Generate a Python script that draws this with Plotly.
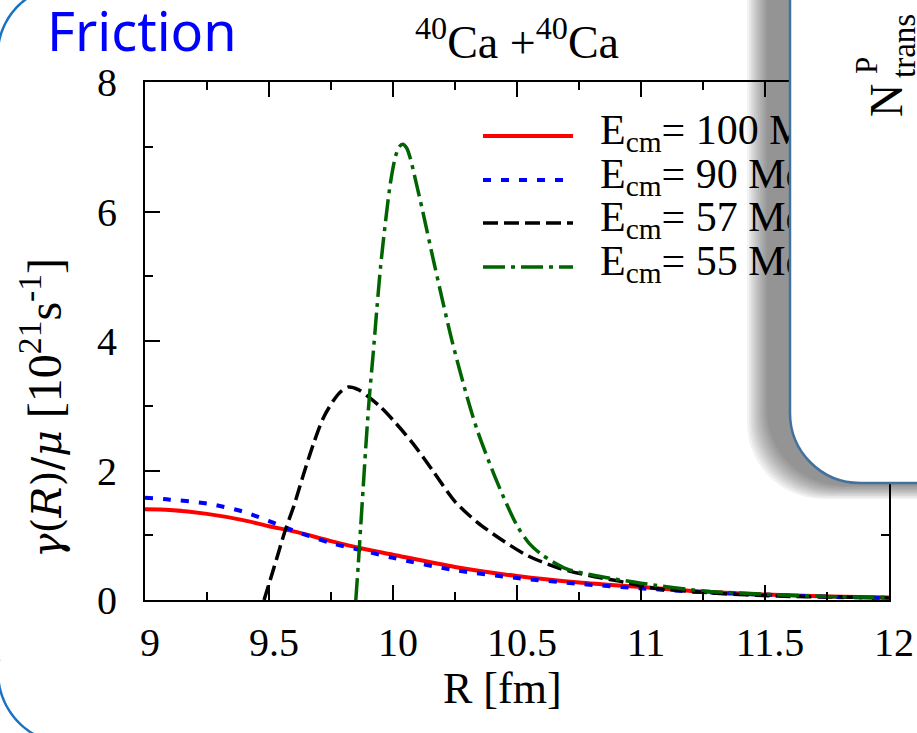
import math
import plotly.graph_objects as go

# Friction coefficient gamma(R)/mu [1e21 s^-1] versus separation R [fm]
r_100 = [9.0, 9.1, 9.25, 9.4, 9.5, 9.6, 9.75, 9.87, 10.0, 10.25, 10.5, 10.75, 11.0, 11.25, 11.5, 11.75, 12.0]
g_100 = [1.40, 1.39, 1.33, 1.23, 1.14, 1.06, 0.91, 0.80, 0.70, 0.51, 0.37, 0.27, 0.20, 0.13, 0.085, 0.055, 0.04]

r_90 = [9.0, 9.1, 9.25, 9.4, 9.5, 9.6, 9.75, 9.87, 10.0, 10.25, 10.5, 10.75, 11.0, 11.25, 11.5, 11.75, 12.0]
g_90 = [1.58, 1.55, 1.49, 1.36, 1.22, 1.07, 0.88, 0.77, 0.65, 0.46, 0.34, 0.25, 0.18, 0.12, 0.08, 0.05, 0.03]

r_57 = [9.48, 9.52, 9.565, 9.6, 9.64, 9.68, 9.72, 9.76, 9.79, 9.82, 9.86, 9.9, 9.95, 10.0,
        10.08, 10.16, 10.25, 10.34, 10.45, 10.545, 10.67, 10.8, 10.9, 11.04, 11.28, 11.55, 11.88, 12.0]
g_57 = [0.0, 0.5, 1.07, 1.45, 1.95, 2.42, 2.82, 3.08, 3.22, 3.29, 3.25, 3.14, 2.98, 2.78,
        2.42, 2.0, 1.52, 1.2, 0.9, 0.68, 0.49, 0.37, 0.3, 0.19, 0.11, 0.06, 0.04, 0.03]

r_55 = [9.85, 9.86, 9.87, 9.88, 9.89, 9.905, 9.92, 9.935, 9.95, 9.97, 9.99, 10.01, 10.025, 10.04,
        10.055, 10.07, 10.09, 10.12, 10.16, 10.2, 10.24, 10.3, 10.34, 10.42, 10.5, 10.55, 10.6,
        10.7, 10.8, 10.9, 11.0, 11.25, 11.5, 11.75, 12.0]
g_55 = [0.0, 0.55, 1.15, 1.75, 2.35, 3.15, 3.8, 4.5, 5.15, 5.85, 6.45, 6.85, 7.0, 7.04,
        6.98, 6.82, 6.5, 6.0, 5.3, 4.62, 3.97, 3.12, 2.62, 1.82, 1.15, 0.87, 0.7,
        0.48, 0.39, 0.32, 0.26, 0.14, 0.09, 0.055, 0.04]

series_labels = ["E<sub>cm</sub>= 100 MeV", "E<sub>cm</sub>= 90 MeV",
                 "E<sub>cm</sub>= 57 MeV", "E<sub>cm</sub>= 55 MeV"]

x_ticks = [9, 9.5, 10, 10.5, 11, 11.5, 12]
x_tick_labels = ["9", "9.5", "10", "10.5", "11", "11.5", "12"]
y_ticks = [0, 2, 4, 6, 8]
y_tick_labels = ["0", "2", "4", "6", "8"]

SERIF = "Liberation Serif"
W, H = 917, 733
PL, PR, PT, PB = 145, 889, 82, 600


def X(px):
    return (px - PL) / (PR - PL)


def Y(py):
    return (PB - py) / (PB - PT)


styles = [
    dict(color="#ff0000", width=4, dash="solid"),
    dict(color="#0000ff", width=4, dash="8px,10px"),
    dict(color="#000000", width=3.5, dash="15px,6px"),
    dict(color="#006400", width=3.5, dash="22px,6px,4px,6px"),
]

fig = go.Figure()
for (rr, gg), st, name in zip([(r_100, g_100), (r_90, g_90), (r_57, g_57), (r_55, g_55)],
                              styles, series_labels):
    fig.add_trace(go.Scatter(x=rr, y=gg, mode="lines", name=name,
                             line=dict(color=st["color"], width=st["width"], dash=st["dash"],
                                       shape="spline", smoothing=0.8),
                             hoverinfo="skip", showlegend=False))

# key: sample lines as shapes, labels as a text trace on an overlay axis so the
# framed inset drawn above can hide their ends
key_rows = [136, 180, 223, 267]
fig.add_trace(go.Scatter(
    x=[X(600)] * 4, y=[Y(r - 3) for r in key_rows], xaxis="x2", yaxis="y2",
    mode="text", text=series_labels, textposition="middle right",
    textfont=dict(family=SERIF, size=42, color="black"),
    cliponaxis=False, hoverinfo="skip", showlegend=False))

shapes = []
for row, st in zip(key_rows, styles):
    shapes.append(dict(type="line", xref="paper", yref="paper",
                       x0=X(483), x1=X(573), y0=Y(row), y1=Y(row), layer="above",
                       line=dict(color=st["color"], width=st["width"], dash=st["dash"])))


def arc_path(cx, cy, r, a0, a1, n=40):
    pts = []
    for i in range(n + 1):
        a = math.radians(a0 + (a1 - a0) * i / n)
        pts.append((cx + r * math.cos(a), cy + r * math.sin(a)))
    return "M " + " L ".join(f"{X(px):.5f},{Y(py):.5f}" for px, py in pts)


# slide frame corners on the left
frame_col = "#1a73c2"
shapes.append(dict(type="path", xref="paper", yref="paper", layer="above",
                   path=arc_path(67, 55, 69.3, 175, 275),
                   line=dict(color=frame_col, width=2.5)))
shapes.append(dict(type="path", xref="paper", yref="paper", layer="above",
                   path=arc_path(70, 672, 72, 90, 190),
                   line=dict(color=frame_col, width=2.5)))


def inset_path(left, bottom, r, right=950, top=-30):
    k = 0.5523 * r
    return (f"M {X(left)},{Y(top)} L {X(left)},{Y(bottom - r)} "
            f"C {X(left)},{Y(bottom - r + k)} {X(left + r - k)},{Y(bottom)} {X(left + r)},{Y(bottom)} "
            f"L {X(right)},{Y(bottom)} L {X(right)},{Y(top)} Z")


# soft drop shadow of the inset panel, built from stacked translucent layers
for i in range(10):
    shapes.append(dict(type="path", xref="paper", yref="paper", layer="above",
                       path=inset_path(747 + 2.2 * i, 499 - 1.5 * i, 76),
                       fillcolor="rgba(0,0,0,0.05)", line=dict(width=0)))
shapes.append(dict(type="path", xref="paper", yref="paper", layer="above",
                   path=inset_path(790, 483, 70),
                   fillcolor="white", line=dict(color="#41719c", width=2.5)))

ytitle = ('<span style="font-family:DejaVu Serif;font-size:41px">'
          '<i>γ</i>(<i>R</i>)/<i>μ</i></span>'
          '<span style="font-family:Liberation Serif"> [10<sup>21</sup>s<sup>-1</sup>]</span>')

annotations = [
    dict(text="Friction", x=X(45), y=Y(30), xref="paper", yref="paper",
         xanchor="left", yanchor="middle", showarrow=False,
         font=dict(family="Noto Sans", size=54, color="#0000ff")),
    dict(text="<sup>40</sup>Ca +<sup>40</sup>Ca", x=X(517), y=Y(39), xref="paper", yref="paper",
         xanchor="center", yanchor="middle", showarrow=False,
         font=dict(family=SERIF, size=46, color="black")),
    dict(text="R [fm]", x=X(502), y=Y(688), xref="paper", yref="paper",
         xanchor="center", yanchor="middle", showarrow=False,
         font=dict(family=SERIF, size=44, color="black")),
    dict(text=ytitle, x=X(41), y=Y(408), xref="paper", yref="paper", textangle=-90,
         xanchor="center", yanchor="middle", showarrow=False,
         font=dict(family=SERIF, size=48, color="black")),
    dict(text="N", x=X(886), y=Y(101), xref="paper", yref="paper", textangle=-90,
         xanchor="center", yanchor="middle", showarrow=False,
         font=dict(family=SERIF, size=46, color="black")),
    dict(text="P", x=X(866), y=Y(66), xref="paper", yref="paper", textangle=-90,
         xanchor="center", yanchor="middle", showarrow=False,
         font=dict(family=SERIF, size=31, color="black")),
    dict(text="trans", x=X(904), y=Y(46), xref="paper", yref="paper", textangle=-90,
         xanchor="center", yanchor="middle", showarrow=False,
         font=dict(family=SERIF, size=33, color="black")),
]

axis_common = dict(showline=True, linewidth=2, linecolor="black", mirror="ticks",
                   ticks="inside", ticklen=15, tickwidth=2, tickcolor="black",
                   showgrid=False, zeroline=False, automargin=False,
                   tickfont=dict(family=SERIF, size=40, color="black"))

fig.update_layout(
    width=W, height=H, autosize=False,
    margin=dict(l=PL, r=W - PR, t=PT, b=H - PB, pad=0),
    paper_bgcolor="white", plot_bgcolor="white", showlegend=False,
    xaxis=dict(range=[9, 12], tickmode="array", tickvals=x_ticks, ticktext=x_tick_labels,
               ticklabelstandoff=6, ticklabelshift=5,
               minor=dict(dtick=0.25, tick0=9, ticks="inside", ticklen=8, tickwidth=2,
                          tickcolor="black", showgrid=False),
               **axis_common),
    yaxis=dict(range=[0, 8], tickmode="array", tickvals=y_ticks, ticktext=y_tick_labels,
               ticklabelstandoff=18,
               minor=dict(dtick=1, tick0=0, ticks="inside", ticklen=8, tickwidth=2,
                          tickcolor="black", showgrid=False),
               **axis_common),
    xaxis2=dict(range=[0, 1], overlaying="x", visible=False, fixedrange=True, automargin=False),
    yaxis2=dict(range=[0, 1], overlaying="y", visible=False, fixedrange=True, automargin=False),
    shapes=shapes, annotations=annotations,
)

fig.write_html("out.html")
